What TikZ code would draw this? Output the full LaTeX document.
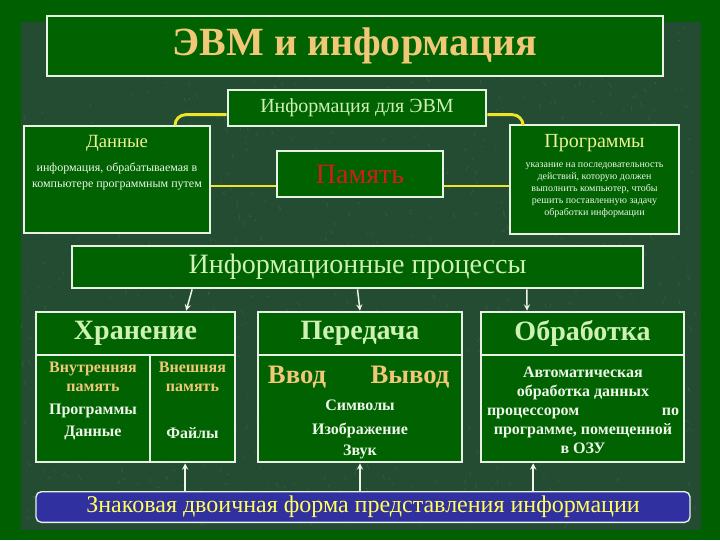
\documentclass[tikz,border=0pt]{standalone}
\usepackage{fontspec}
\setmainfont{Liberation Serif}
\usetikzlibrary{positioning}
\definecolor{framegreen}{RGB}{0,95,0}
\definecolor{marble}{RGB}{36,76,50}
\definecolor{vein}{RGB}{150,190,160}
\definecolor{boxfill}{RGB}{0,98,0}
\definecolor{boxline}{RGB}{232,242,228}
\definecolor{tan}{RGB}{240,200,120}
\definecolor{paleyellow}{RGB}{240,240,150}
\definecolor{palegreen}{RGB}{205,242,180}
\definecolor{softwhite}{RGB}{238,246,234}
\definecolor{memred}{RGB}{205,30,30}
\definecolor{barblue}{RGB}{48,48,160}
\definecolor{bartext}{RGB}{255,255,90}
\definecolor{linkyellow}{RGB}{238,228,40}
\begin{document}
\begin{tikzpicture}[x=0.75pt,y=-0.75pt,>=stealth,
    box/.style={draw=boxline,line width=2pt,fill=boxfill,inner sep=0pt},
    link/.style={linkyellow,line width=2.2pt,rounded corners=8pt},
    arr/.style={->,softwhite,line width=1.1pt},
    head/.style={text=palegreen,font=\fontsize{21}{24}\selectfont\bfseries},
    small/.style={text=softwhite,align=center}]
    \useasboundingbox (0,0) rectangle (720,540);

    % background
    \fill[framegreen] (0,0) rectangle (720,540);
    \fill[marble] (21,22) rectangle (701,530);
    \pgfmathsetseed{7}
    \foreach \k in {1,...,1100}
        {\pgfmathsetmacro\vx{21+676*rnd}\pgfmathsetmacro\vy{24+502*rnd}
        \draw[vein,opacity=0.14,line width=0.5pt] (\vx,\vy)--++(-3+6*rnd,-5+10*rnd);}

    % title
    \node(title)[box,minimum width=462pt,minimum height=45pt,text=tan,
        font=\fontsize{30}{36}\selectfont\bfseries] at (355,46) {ЭВМ и информация};

    % upper row
    \node(info)[box,minimum width=193.5pt,minimum height=27pt,text=palegreen,
        font=\fontsize{15}{17}\selectfont] at (357,108) {Информация для ЭВМ};
    \node(dannye)[box,minimum width=139.5pt,minimum height=80.25pt] at (117,179.5) {};
    \node(pamyat)[box,minimum width=124.5pt,minimum height=34.5pt,text=memred,
        font=\fontsize{21}{23}\selectfont] at (360,174) {Память};
    \node(progs)[box,minimum width=126.75pt,minimum height=81.75pt] at (594.5,179.5) {};

    \node(dannyeT)[text=paleyellow,font=\fontsize{14}{16}\selectfont] at (117,143) {Данные};
    \node(dannyeX)[small,font=\fontsize{9}{12}\selectfont] at (117,176)
        {информация, обрабатываемая в\\компьютере программным путем};
    \node(progsT)[text=paleyellow,font=\fontsize{15}{17}\selectfont] at (594.5,143) {Программы};
    \node(progsX)[small,font=\fontsize{7.5}{9}\selectfont] at (594.5,190)
        {указание на последовательность\\действий, которую должен\\выполнить компьютер, чтобы\\решить поставленную задачу\\обработки информации};

    \draw[link]([yshift=-5pt]info.west)-|([xshift=43.5pt]dannye.north);
    \draw[link]([yshift=-5pt]info.east)-|([xshift=-53.6pt]progs.north);
    \coordinate(pl) at ([yshift=-9pt]pamyat.west);
    \coordinate(pr) at ([yshift=-9pt]pamyat.east);
    \draw[link](pl)--(pl-|dannye.east);
    \draw[link](pr)--(pr-|progs.west);

    % processes
    \node(proc)[box,minimum width=428.25pt,minimum height=31.5pt,text=palegreen,
        font=\fontsize{21}{24}\selectfont] at (357.5,267) {Информационные процессы};

    \node(hranH)[box,minimum width=149.25pt,minimum height=32.25pt,head] at (135.5,333.5) {Хранение};
    \node(hranL)[box,minimum width=85.5pt,minimum height=80.25pt] at (93,408.5) {};
    \node(hranR)[box,minimum width=63.75pt,minimum height=80.25pt] at (192.5,408.5) {};
    \node(perH)[box,minimum width=153pt,minimum height=32.25pt,head] at (360,333.5) {Передача};
    \node(perB)[box,minimum width=153pt,minimum height=80.25pt] at (360,408.5) {};
    \node(obrH)[box,minimum width=152.25pt,minimum height=32.25pt,head] at (582.5,333.5) {Обработка};
    \node(obrB)[box,minimum width=152.25pt,minimum height=80.25pt] at (582.5,408.5) {};

    \begin{scope}[every node/.style={font=\fontsize{12}{14.25}\selectfont\bfseries}]
        \node(vnutr)[text=tan,align=center] at (93,377) {Внутренняя\\память};
        \node(hProg)[text=softwhite] at (93,411) {Программы};
        \node(hDan)[text=softwhite] at (93,433) {Данные};
        \node(vnesh)[text=tan,align=center] at (192.5,377) {Внешняя\\память};
        \node(hFile)[text=softwhite] at (192.5,433) {Файлы};
        \node(pSym)[text=softwhite] at (360,405) {Символы};
        \node(pImg)[text=softwhite] at (360,430) {Изображение};
        \node(pSnd)[text=softwhite] at (360,452) {Звук};
        \node(obrX)[small] at (583,410)
            {Автоматическая\\обработка данных\\\makebox[144pt][s]{процессором\hfill по}\\программе, помещенной\\в ОЗУ};
    \end{scope}
    \node(vvod)[text=tan,font=\fontsize{20}{22}\selectfont\bfseries] at (297,377) {Ввод};
    \node(vyvod)[text=tan,font=\fontsize{20}{22}\selectfont\bfseries] at (410,377) {Вывод};

    \draw[arr]([xshift=-124pt]proc.south)--([xshift=38pt]hranH.north);
    \draw[arr](proc.south)--(perH.north);
    \draw[arr]([xshift=127pt]proc.south)--([xshift=-41.6pt]obrH.north);

    % bottom bar
    \node(bar)[draw=boxline,line width=1pt,fill=barblue,rounded corners=4pt,
        minimum width=490.5pt,minimum height=22.5pt,text=bartext,
        font=\fontsize{18}{20}\selectfont] at (363,507)
        {Знаковая двоичная форма представления информации};

    \foreach \b/\s in {hranR/-5.5,perB/0,obrB/-37}
        \draw[arr]([xshift=\s pt]\b.south|-bar.north)--([xshift=\s pt]\b.south);
\end{tikzpicture}
\end{document}
